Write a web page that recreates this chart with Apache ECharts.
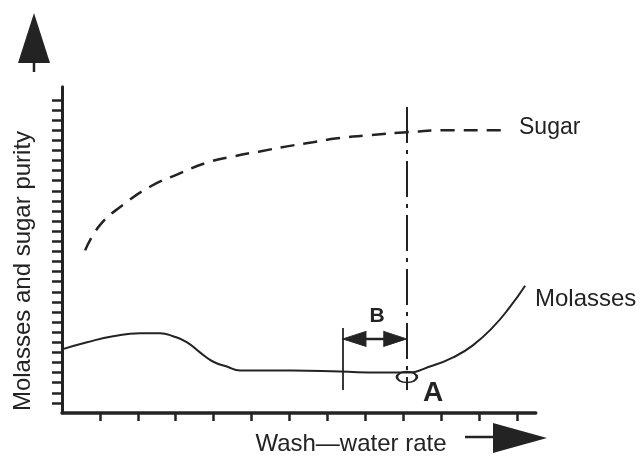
<!DOCTYPE html>
<html>
<head>
<meta charset="utf-8">
<script src="https://cdn.jsdelivr.net/npm/echarts@6/dist/echarts.min.js"></script>
<style>
  html, body { margin: 0; padding: 0; background: #ffffff; }
  #chart { width: 642px; height: 456px; }
</style>
</head>
<body>
<div id="chart"></div>
<script>
// ---- data (x in tick units, y in tick units) ----
const sugarX = [0.61, 1.00, 1.61, 2.32, 3.03, 3.83, 4.51, 5.22, 5.94, 6.62, 7.26, 8.13, 9.10, 10.24, 11.74];
const sugarY = [16.1, 18.6, 20.6, 22.4, 23.6, 24.8, 25.4, 25.9, 26.4, 26.8, 27.2, 27.5, 27.8, 28.0, 28.0];

const molassesX = [0.00, 0.66, 1.35, 2.06, 2.59, 2.93, 3.30, 3.64, 3.98, 4.35, 4.70, 6.09, 7.34, 8.40, 9.05, 9.79, 10.32, 10.84, 11.37, 11.82, 12.22];
const molassesY = [6.3, 7.0, 7.6, 7.9, 7.9, 7.6, 7.0, 6.0, 5.1, 4.6, 4.2, 4.2, 4.1, 4.0, 4.0, 4.7, 5.5, 6.7, 8.5, 10.5, 12.6];

const xTickValues = [1, 2, 3, 4, 5, 6, 7, 8, 9, 10, 11, 12];
const yTickValues = [1, 2, 3, 4, 5, 6, 7, 8, 9, 10, 11, 12, 13, 14, 15, 16, 17, 18, 19, 20,
                     21, 22, 23, 24, 25, 26, 27, 28, 29, 30, 31];

const optimumX = 9.10;          // dash-dot line / point A
const optimumTopY = 30.3;
const guideBottomY = 2.28;
const bLeftX = 7.41;
const bLeftTopY = 8.42;
const bArrowY = 7.33;
const pointA = [9.10, 3.56];

const labelSugar = 'Sugar';
const labelMolasses = 'Molasses';
const labelA = 'A';
const labelB = 'B';
const xTitle = 'Wash\u2014water rate';
const yTitle = 'Molasses and sugar purity';

// ---- chart ----
const INK = '#232323';
const FONT = '"Liberation Sans", Arial, Helvetica, sans-serif';
const X_UNIT = 37.9, Y_UNIT = 10.1;
const X_MAX = 12.5, Y_MAX = 32.3;
const arrowLen = 23, arrowWidth = 15;
const arrowPad = (arrowLen / 2) / X_UNIT;

const zip = (xs, ys) => xs.map((x, i) => [x, ys[i]]);

const chart = echarts.init(document.getElementById('chart'), null, { renderer: 'canvas' });

chart.setOption({
  animation: false,
  backgroundColor: '#ffffff',
  grid: {
    left: 62,
    top: 413 - Y_MAX * Y_UNIT,
    width: X_MAX * X_UNIT,
    height: Y_MAX * Y_UNIT,
    containLabel: false
  },
  xAxis: {
    type: 'value',
    min: 0,
    max: X_MAX,
    interval: 1,
    axisLine: { show: true, lineStyle: { color: INK, width: 3.5 } },
    axisTick: { show: true, length: 8, lineStyle: { color: INK, width: 2.5 }, customValues: xTickValues },
    axisLabel: { show: false },
    splitLine: { show: false }
  },
  yAxis: {
    type: 'value',
    min: 0,
    max: Y_MAX,
    interval: 1,
    axisLine: { show: true, lineStyle: { color: INK, width: 3 } },
    axisTick: { show: true, length: 10, lineStyle: { color: INK, width: 2.5 }, customValues: yTickValues },
    axisLabel: { show: false },
    splitLine: { show: false }
  },
  series: [
    {
      name: labelSugar,
      type: 'line',
      data: zip(sugarX, sugarY),
      smooth: 0.5,
      showSymbol: false,
      silent: true,
      lineStyle: { color: INK, width: 2.5, type: [14, 9] }
    },
    {
      name: labelMolasses,
      type: 'line',
      data: zip(molassesX, molassesY),
      smooth: 0.5,
      showSymbol: false,
      silent: true,
      lineStyle: { color: INK, width: 2 },
      markLine: {
        silent: true,
        animation: false,
        symbol: ['none', 'none'],
        label: { show: false },
        data: [
          [
            { coord: [optimumX, optimumTopY], lineStyle: { color: INK, width: 2, type: [36, 7, 4, 7] } },
            { coord: [optimumX, guideBottomY] }
          ],
          [
            { coord: [bLeftX, bLeftTopY], lineStyle: { color: INK, width: 1.8, type: 'solid' } },
            { coord: [bLeftX, guideBottomY] }
          ]
        ]
      }
    },
    {
      name: labelB + ' shaft',
      type: 'line',
      data: [[bLeftX + arrowPad, bArrowY], [optimumX - arrowPad, bArrowY]],
      showSymbol: false,
      silent: true,
      lineStyle: { color: INK, width: 2.5 }
    },
    {
      name: labelB + ' heads',
      type: 'scatter',
      symbol: 'triangle',
      symbolSize: [arrowWidth, arrowLen],
      symbolKeepAspect: false,
      silent: true,
      z: 6,
      itemStyle: { color: INK, opacity: 1, borderColor: INK, borderWidth: 1 },
      data: [
        { value: [bLeftX + arrowPad, bArrowY], symbolRotate: 90 },
        { value: [optimumX - arrowPad, bArrowY], symbolRotate: -90 }
      ]
    },
    {
      name: labelA,
      type: 'scatter',
      data: [pointA],
      symbol: 'circle',
      symbolSize: [20, 11],
      silent: true,
      z: 5,
      itemStyle: { color: 'rgba(0,0,0,0)', borderColor: INK, borderWidth: 2, opacity: 1 }
    }
  ],
  graphic: [
    // y axis arrow
    { type: 'polygon', shape: { points: [[34, 13], [50, 63], [18, 63]] }, style: { fill: INK } },
    { type: 'line', shape: { x1: 34, y1: 62, x2: 34, y2: 72 }, style: { stroke: INK, lineWidth: 2.5 } },
    // x axis arrow
    { type: 'polygon', shape: { points: [[493, 423], [547, 438], [493, 453]] }, style: { fill: INK } },
    { type: 'line', shape: { x1: 465, y1: 437, x2: 495, y2: 437 }, style: { stroke: INK, lineWidth: 2.5 } },
    // texts
    { type: 'text', x: 351, y: 444, style: { text: xTitle, fill: INK, font: '24px ' + FONT, align: 'center', verticalAlign: 'middle' } },
    { type: 'text', x: 23, y: 271, rotation: Math.PI / 2,
      style: { text: yTitle, fill: INK, font: '24px ' + FONT, align: 'center', verticalAlign: 'middle' } },
    { type: 'text', x: 519, y: 128, style: { text: labelSugar, fill: INK, font: '23px ' + FONT, align: 'left', verticalAlign: 'middle' } },
    { type: 'text', x: 535, y: 299, style: { text: labelMolasses, fill: INK, font: '24px ' + FONT, align: 'left', verticalAlign: 'middle' } },
    { type: 'text', x: 377, y: 316, style: { text: labelB, fill: INK, font: 'bold 21px ' + FONT, align: 'center', verticalAlign: 'middle' } },
    { type: 'text', x: 433, y: 393, style: { text: labelA, fill: INK, font: 'bold 28px ' + FONT, align: 'center', verticalAlign: 'middle' } }
  ]
});
</script>
</body>
</html>
